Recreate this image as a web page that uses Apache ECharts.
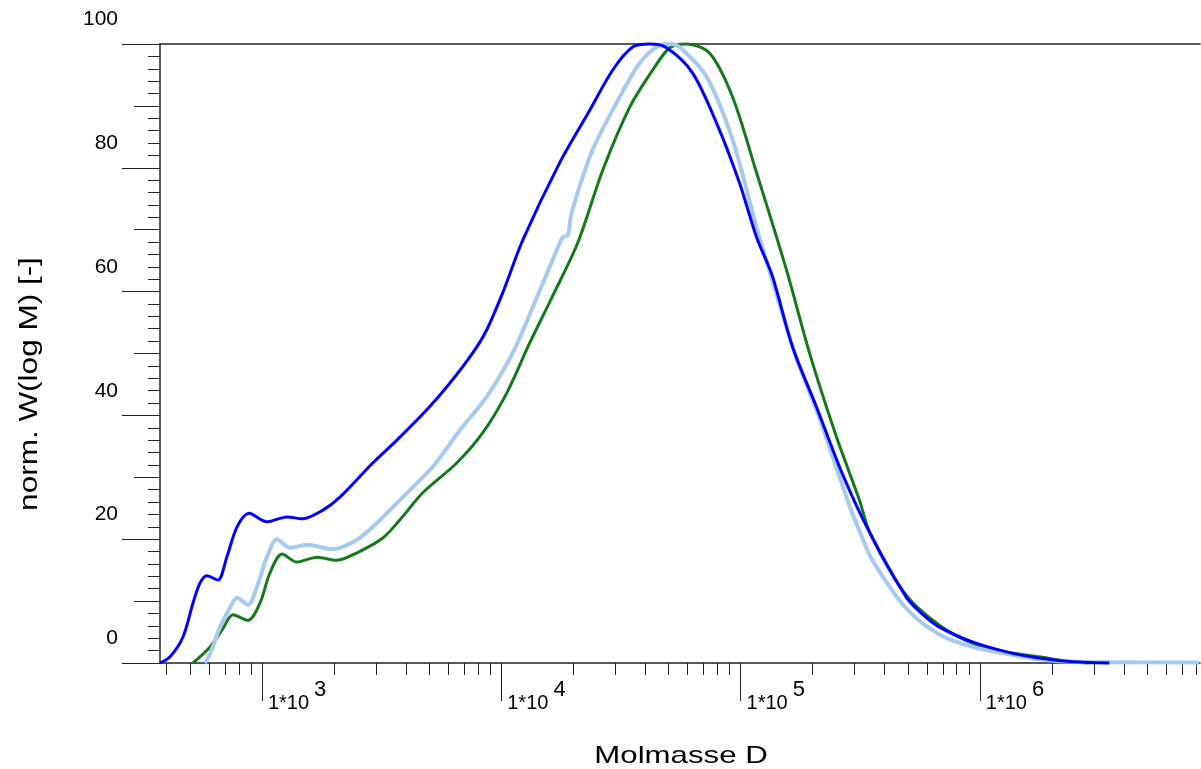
<!DOCTYPE html>
<html>
<head>
<meta charset="utf-8">
<script src="https://cdn.jsdelivr.net/npm/echarts@6/dist/echarts.min.js"></script>
<style>
html,body{margin:0;padding:0;background:#fff;}
#c{width:1201px;height:769px;}
</style>
</head>
<body>
<div id="c"></div>
<script>
// log10(M) positions and normalized W(log M) values
const blueLogM = [2.574,2.616,2.670,2.712,2.741,2.770,2.816,2.854,2.896,2.946,3.021,3.104,3.171,3.255,3.326,3.463,3.564,3.689,3.785,3.881,3.939,4.006,4.090,4.244,4.370,4.466,4.549,4.620,4.691,4.800,4.912,4.996,5.067,5.134,5.217,5.317,5.426,5.534,5.693,5.760,5.831,5.969,6.111,6.248,6.386,6.541];
const blueW    = [0,1.0,4.2,9.7,12.9,14.1,13.4,17.2,22.0,24.2,22.8,23.6,23.3,24.7,26.8,32.3,36.0,40.9,45.2,50.1,53.8,59.8,68.3,80.8,89.3,95.8,99.5,100,99.4,95.3,86.1,77.5,68.8,62.4,51.1,41.4,30.5,21.5,10.6,7.9,5.8,3.4,1.8,0.8,0.2,0];

const lightLogM = [2.762,2.783,2.825,2.866,2.896,2.942,2.979,3.021,3.063,3.117,3.188,3.296,3.397,3.493,3.576,3.714,3.827,3.939,4.048,4.132,4.232,4.257,4.278,4.294,4.382,4.495,4.578,4.662,4.704,4.745,4.858,4.967,5.067,5.226,5.330,5.459,5.505,5.551,5.693,5.831,5.969,6.111,6.248,6.386,6.916];
const lightW    = [0,1.5,5.8,8.9,10.5,9.4,12.3,17.1,20.0,18.6,19.1,18.4,19.9,23.1,26.3,31.7,37.6,43.0,50.1,57.5,66.7,68.8,69.1,72.7,82.9,91.4,96.9,99.8,100,99.5,94.7,84.5,70.4,50.1,39.5,25.0,20.6,16.6,8.8,4.6,2.6,1.5,0.6,0.2,0.1];

const greenLogM = [2.712,2.783,2.833,2.879,2.942,2.992,3.033,3.084,3.146,3.230,3.313,3.397,3.505,3.576,3.672,3.814,3.923,4.023,4.119,4.211,4.319,4.424,4.537,4.633,4.704,4.775,4.871,4.967,5.067,5.192,5.288,5.401,5.497,5.543,5.693,5.831,5.969,6.111,6.248,6.386,6.457];
const greenW    = [0,2.6,5.3,7.8,6.9,9.7,14.5,17.6,16.3,17.1,16.6,17.8,20.2,23.1,27.5,32.3,37.2,43.6,51.7,59.0,67.8,79.6,89.8,95.8,99.4,100,98.5,91.4,79.2,63.5,50.1,36.5,26.3,20.8,10.9,6.1,3.2,1.8,1.0,0.2,0];

// axis tick labels
const decadeExponents = [3,4,5,6];
const minorMultipliers = [2,3,4,5,6,7,8,9];
const yTickLabels = [0,20,40,60,80,100];
const xMin = 2.574, xMax = 6.92;

const majorTicks = decadeExponents.slice();
const minorTicks = [];
[2,3,4,5,6].forEach(function(e){
  minorMultipliers.forEach(function(k){
    const v = Math.log10(k) + e;
    if (v > xMin && v < xMax) minorTicks.push(v);
  });
});

const axisColor = '#222';
const font = '"Liberation Sans", Arial, sans-serif';

function mkLine(name, xs, ys, color, width, z){
  return {
    name: name, type: 'line', xAxisIndex: 0, yAxisIndex: 0,
    data: xs.map(function(x,i){return [x, ys[i]];}),
    showSymbol: false, smooth: 0.3, clip: false, z: z,
    lineStyle: {color: color, width: width}
  };
}

const chart = echarts.init(document.getElementById('c'), null, {renderer:'canvas'});
chart.setOption({
  animation: false,
  backgroundColor: '#fff',
  grid: {left:160, right:1, top:44, bottom:106, containLabel:false},
  xAxis: [
    {type:'value', min:xMin, max:xMax, position:'bottom',
     axisLine:{show:true, onZero:false, lineStyle:{color:axisColor, width:1.5}},
     axisTick:{show:true, customValues:minorTicks, length:12, lineStyle:{color:axisColor, width:1}},
     axisLabel:{show:false}, splitLine:{show:false}},
    {type:'value', min:xMin, max:xMax, position:'bottom',
     axisLine:{show:false, onZero:false},
     axisTick:{show:true, customValues:majorTicks, length:38, lineStyle:{color:axisColor, width:1}},
     axisLabel:{show:true, customValues:majorTicks, margin:16, align:'left',
       formatter:function(v){ return '{b|1*10}{s|' + Math.round(v) + '}'; },
       rich:{
         b:{fontSize:20, fontFamily:font, color:'#000', verticalAlign:'bottom', padding:[0,0,0,6]},
         s:{fontSize:22, fontFamily:font, color:'#000', verticalAlign:'top', padding:[0,0,12,5]}
       }},
     splitLine:{show:false}},
    {type:'value', min:xMin, max:xMax, position:'top',
     axisLine:{show:true, onZero:false, lineStyle:{color:axisColor, width:1.5}},
     axisTick:{show:false}, axisLabel:{show:false}, splitLine:{show:false}}
  ],
  yAxis: [
    {type:'value', min:0, max:100, interval:2, position:'left',
     axisLine:{show:true, onZero:false, lineStyle:{color:axisColor, width:1.5}},
     axisTick:{show:true, length:12, lineStyle:{color:axisColor, width:1}},
     axisLabel:{show:false}, splitLine:{show:false}},
    {type:'value', min:0, max:100, interval:10, position:'left',
     axisLine:{show:false, onZero:false},
     axisTick:{show:true, length:26, lineStyle:{color:axisColor, width:1}},
     axisLabel:{show:false}, splitLine:{show:false}},
    {type:'value', min:0, max:100, interval:20, position:'left',
     axisLine:{show:false, onZero:false},
     axisTick:{show:true, length:38, lineStyle:{color:axisColor, width:1}},
     axisLabel:{show:true, margin:42, fontSize:21, fontFamily:font, color:'#000',
       verticalAlign:'bottom', padding:[0,0,14,0],
       formatter:function(v){ return yTickLabels.indexOf(v) >= 0 ? String(v) : ''; }},
     splitLine:{show:false}}
  ],
  graphic: [
    {type:'text', x:30, y:384, rotation:Math.PI/2, scaleX:1.26, scaleY:1,
     style:{text:'norm. W(log M) [-]', font:'25px "Liberation Sans", Arial, sans-serif', fill:'#000', textAlign:'center', textVerticalAlign:'middle'}},
    {type:'text', x:681, y:756, scaleX:1.3, scaleY:1,
     style:{text:'Molmasse D', font:'24px "Liberation Sans", Arial, sans-serif', fill:'#000', textAlign:'center', textVerticalAlign:'middle'}}
  ],
  series: [
    mkLine('green', greenLogM, greenW, '#13791a', 3, 3),
    mkLine('lightblue', lightLogM, lightW, '#a5c9ef', 4, 4),
    mkLine('blue', blueLogM, blueW, '#0000ff', 3, 5)
  ]
});
</script>
</body>
</html>
